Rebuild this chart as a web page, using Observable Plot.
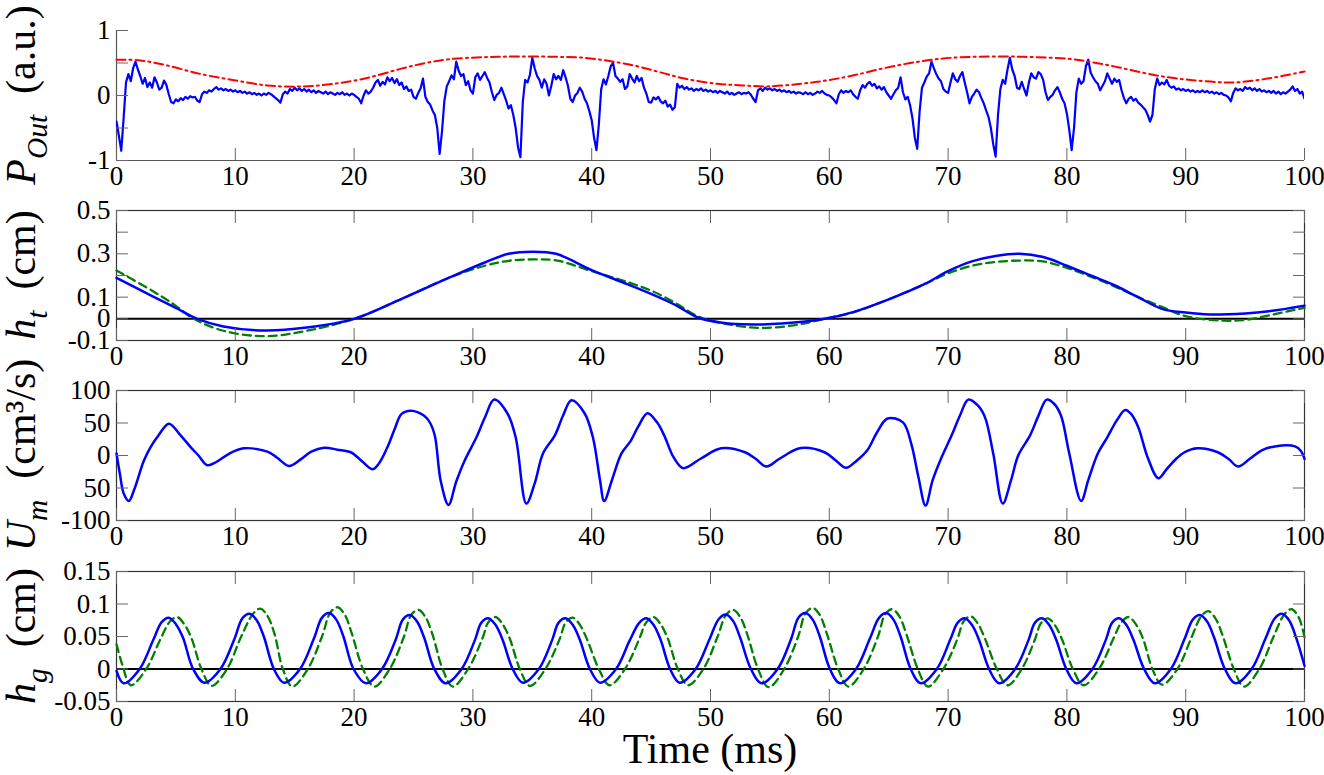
<!DOCTYPE html>
<html><head><meta charset="utf-8">
<script src="https://cdn.jsdelivr.net/npm/d3@7"></script>
<script src="https://cdn.jsdelivr.net/npm/@observablehq/plot@0.6"></script>
<style>
body{margin:0;background:#fff;}
#chart{position:relative;width:1324px;height:775px;overflow:hidden;background:#fff;}
#chart svg{position:absolute;left:0;font-family:"Liberation Serif",serif;}
#chart svg text{font-family:"Liberation Serif",serif;}
</style></head><body><div id="chart"></div>
<script>
// ---------- DATA ----------
const xTicks = [0,10,20,30,40,50,60,70,80,90,100];

// Panel 1: P_Out (a.u.) sampled every 0.2 ms, one row per 5 ms
const pOutStep = 0.2;
const pOutRows = [
 [-0.40,-0.62,-0.85,-0.35,0.20,0.33,0.22,0.42,0.52,0.40,0.30,0.18,0.27,0.13,0.20,0.12,0.28,0.20,0.09,0.12,0.23,0.16,0.02,-0.10,-0.12],
 [-0.06,-0.09,-0.04,-0.07,-0.02,-0.05,-0.01,-0.03,-0.02,-0.08,-0.10,0.02,0.06,0.04,0.08,0.06,0.10,0.13,0.09,0.11,0.08,0.10,0.07,0.09,0.06],
 [0.08,0.05,0.07,0.04,0.06,0.03,0.05,0.02,0.04,0.01,0.03,0.00,0.03,0.01,0.04,0.02,-0.01,-0.04,-0.07,-0.11,0.02,0.06,0.03,0.10,0.07],
 [0.12,0.08,0.11,0.07,0.10,0.06,0.09,0.05,0.08,0.04,0.07,0.05,0.03,0.06,0.02,0.05,0.03,0.01,0.04,0.02,0.05,0.01,0.03,0.00,0.03],
 [0.01,-0.02,-0.05,-0.12,0.00,0.08,0.03,0.06,0.12,0.20,0.24,0.15,0.21,0.17,0.28,0.22,0.27,0.19,0.25,0.16,0.20,0.10,0.14,0.07,0.09],
 [-0.02,-0.05,0.04,0.11,0.26,-0.02,-0.10,-0.14,-0.23,-0.30,-0.50,-0.90,-0.55,-0.08,0.14,0.22,0.31,0.25,0.52,0.38,0.30,0.33,0.16,0.22,0.08],
 [0.03,0.28,0.34,0.24,0.30,0.36,0.27,0.20,0.05,-0.07,0.01,0.04,0.12,0.02,-0.08,-0.20,-0.15,-0.30,-0.50,-0.80,-0.95,-0.10,0.24,0.20,0.32],
 [0.58,0.42,0.30,0.24,0.12,0.25,0.18,0.00,0.15,0.33,0.25,0.30,0.24,0.39,0.28,0.15,-0.05,-0.10,0.00,0.04,0.12,0.06,-0.05,-0.12,-0.24],
 [-0.38,-0.65,-0.84,-0.45,0.10,0.25,0.17,0.30,0.45,0.50,0.30,0.26,0.21,0.25,0.10,0.14,0.33,0.26,0.20,0.30,0.22,0.27,0.12,0.03,-0.10],
 [-0.11,-0.03,-0.06,-0.02,-0.09,-0.12,-0.08,-0.17,-0.14,-0.22,-0.18,0.18,0.12,0.15,0.10,0.13,0.09,0.11,0.07,0.10,0.08,0.11,0.07,0.09,0.06],
 [0.08,0.05,0.07,0.04,0.07,0.05,0.03,0.06,0.02,0.04,0.01,0.03,0.05,0.02,0.04,0.03,0.05,0.01,-0.05,-0.10,0.08,0.11,0.07,0.12,0.09],
 [0.11,0.08,0.10,0.07,0.09,0.06,0.08,0.05,0.07,0.04,0.06,0.03,0.05,0.04,0.02,0.05,0.02,0.04,0.01,0.03,0.06,0.04,0.07,0.03,0.01],
 [0.00,-0.03,-0.07,-0.12,0.02,0.08,0.04,0.07,0.05,0.08,0.02,-0.02,-0.05,0.08,0.16,0.12,0.18,0.21,0.15,0.18,0.11,0.14,0.09,0.13,0.05],
 [0.00,-0.05,0.02,0.08,0.12,0.28,0.05,-0.06,-0.02,-0.15,-0.35,-0.65,-0.82,-0.25,0.12,0.20,0.29,0.34,0.52,0.42,0.33,0.26,0.22,0.10,0.06],
 [0.04,0.20,0.34,0.25,0.21,0.30,0.36,0.20,0.05,-0.12,-0.02,0.03,0.09,0.05,-0.04,-0.12,-0.23,-0.33,-0.50,-0.75,-0.94,-0.30,0.10,0.24,0.18],
 [0.40,0.58,0.40,0.30,0.12,0.10,0.21,0.10,0.00,0.20,0.34,0.28,0.26,0.36,0.33,0.24,0.05,-0.07,-0.02,0.01,0.08,0.13,0.05,-0.05,-0.12],
 [-0.28,-0.53,-0.84,-0.50,0.05,0.26,0.18,0.22,0.45,0.55,0.35,0.28,0.22,0.18,0.08,0.15,0.22,0.34,0.26,0.18,0.26,0.21,0.24,0.08,-0.04],
 [-0.12,-0.05,-0.02,-0.08,-0.05,-0.11,-0.14,-0.18,-0.22,-0.30,-0.40,-0.30,0.10,0.26,0.16,0.20,0.17,0.24,0.15,0.12,0.14,0.09,0.11,0.08,0.10],
 [0.07,0.09,0.06,0.08,0.05,0.07,0.05,0.08,0.05,0.07,0.04,0.06,0.03,0.05,0.02,0.04,0.01,0.00,-0.03,-0.09,0.04,0.11,0.08,0.10,0.07],
 [0.13,0.10,0.12,0.08,0.11,0.07,0.10,0.06,0.08,0.05,0.07,0.04,0.07,0.03,0.06,0.02,0.05,0.03,0.06,0.09,0.14,0.07,0.10,0.03,0.06],
 [-0.05]
];
// Panel 1: envelope (red dash-dot)
const envT = [0,2,4.3,7.1,9.9,12.7,15.5,18.3,21.1,23.9,26,28.1,31,33.8,37,39.4,41.5,43.6,45.7,47.8,50.6,52.7,54.8,57.6,59.7,61.8,64.6,67.5,70.3,74.5,77.3,80.1,82.2,84.3,86.4,88.5,90.6,92.7,94.1,96.9,100];
const envV = [0.55,0.54,0.46,0.33,0.235,0.154,0.138,0.18,0.27,0.41,0.50,0.56,0.59,0.60,0.595,0.58,0.53,0.46,0.36,0.26,0.18,0.155,0.14,0.18,0.23,0.30,0.42,0.52,0.58,0.60,0.59,0.565,0.51,0.435,0.35,0.28,0.235,0.205,0.20,0.26,0.37];

// Panel 2: h_t (cm)
const htBlueT = [0,3,5,6.8,9,12.5,16,20,24,28,31,33,35,37,40,43,45,47,49,51,53.5,56,59.6,62,65,68,70,72,74,76,78,80,82,84,86,88,90,92,95,97,100];
const htBlueV = [0.189,0.105,0.05,0,-0.035,-0.054,-0.04,0,0.092,0.19,0.26,0.30,0.31,0.30,0.225,0.16,0.115,0.065,0.005,-0.018,-0.026,-0.022,0,0.031,0.09,0.16,0.22,0.265,0.29,0.30,0.285,0.245,0.20,0.155,0.10,0.046,0.029,0.02,0.025,0.035,0.061];
const htGreenT = [0,3,5,6.5,9,12.5,16,20,24,28,31,33,35,37,40,43,45,47,49,51,54,57,59.6,62,65,68,70,72,74,76,78,80,82,84,86,88,90,93,95,97,100];
const htGreenV = [0.223,0.13,0.06,0,-0.055,-0.08,-0.055,0,0.092,0.19,0.245,0.268,0.274,0.27,0.22,0.17,0.13,0.075,0.01,-0.02,-0.042,-0.03,0,0.03,0.09,0.16,0.21,0.245,0.262,0.269,0.265,0.235,0.195,0.15,0.10,0.055,0.012,-0.008,-0.005,0.016,0.051];

// Panel 3: U_m (cm^3/s)
const umT = [0,0.3,0.6,1.04,1.5,2.3,2.87,3.5,4.41,5.3,6.24,6.9,7.64,8.4,9.5,10.73,12.7,13.5,14.52,15.5,16.4,17.47,18.6,19.72,20.5,21.54,22.1,22.81,23.4,24.0,24.8,25.9,26.4,26.8,27.3,27.95,28.6,29.3,30.3,31.0,31.8,32.9,33.6,34.5,35.2,35.9,36.9,37.6,38.3,39.4,40.1,40.7,41.05,41.7,42.5,43.3,43.9,44.7,45.5,46.1,46.9,47.7,49.2,50.9,52.9,53.8,54.7,55.8,57.6,59.6,60.5,61.4,62.3,63.2,64.0,64.9,66.2,66.9,67.5,68.1,68.7,69.4,70.3,71.0,71.7,72.5,73.1,73.8,74.6,75.3,75.9,76.9,77.6,78.3,78.9,79.5,80.2,81.2,81.8,82.6,83.4,84.2,84.9,85.4,86.0,86.8,87.7,88.4,89.2,89.9,91.0,92.7,93.6,94.4,95.4,96.4,97.5,99.2,99.7,100];
const umV = [3,-30,-58,-70,-52,-8,13,30,49,33,13,0,-15,-10,3,11,6,-3,-16,-6,6,12,9,5,-6,-21,-12,13,40,64,69,61,50,30,-40,-76,-40,-8,28,58,86,65,28,-74,-43,3,31,62,85,65,28,-38,-70,-38,3,23,44,65,51,31,-3,-19.5,-4.6,11,5,-5,-17,-5,11.5,5,-7,-19,-8,8,35,57,51,18,-33,-77,-38,-5,31,61.5,86,77,59,3,-74,-38,0,31,61,86,80,61.5,3,-70,-38,3,28,54,70,64,44,-3,-35,-21,-5,5,11,5,-5,-17,-5,8,14,14,7,-5];

// Panel 4: h_g (cm)
const hgBlueT = [0,0.6,1.95,3.1,3.8,4.4,5.0,5.6,6.45,7.4,8.75,9.9,10.6,11.2,11.8,12.4,13.25,14.1,15.45,16.6,17.3,17.9,18.5,19.1,19.95,21.0,22.35,23.5,24.1,24.7,25.3,25.9,26.75,27.7,29.05,30.2,30.7,31.3,31.9,32.5,33.35,34.2,35.55,36.7,37.2,37.8,38.4,39.0,39.85,40.7,42.05,43.2,44.0,44.6,45.2,45.8,46.6,47.4,48.75,49.9,50.7,51.3,51.9,52.5,53.4,54.3,55.65,56.8,57.4,58.0,58.6,59.2,60.05,60.9,62.25,63.4,64.2,64.8,65.4,66.0,66.85,67.7,69.05,70.2,70.8,71.4,72.0,72.6,73.45,74.3,75.65,76.8,77.3,77.9,78.5,79.1,79.95,80.8,82.15,83.3,83.8,84.4,85.0,85.6,86.5,87.4,88.75,89.9,90.6,91.2,91.8,92.4,93.3,94.2,95.55,96.7,97.5,98.1,98.7,99.3,100];
const hgBlueV = [-0.003,-0.022,0,0.045,0.072,0.079,0.069,0.048,0,-0.021,0,0.045,0.078,0.085,0.075,0.05,0,-0.021,0,0.046,0.079,0.086,0.076,0.05,0,-0.022,0,0.045,0.076,0.083,0.073,0.048,0,-0.022,0,0.046,0.071,0.078,0.068,0.045,0,-0.021,0,0.046,0.071,0.078,0.068,0.045,0,-0.021,0,0.044,0.071,0.078,0.068,0.045,0,-0.021,0,0.045,0.077,0.084,0.074,0.048,0,-0.022,0,0.047,0.079,0.086,0.076,0.05,0,-0.022,0,0.046,0.079,0.086,0.076,0.05,0,-0.022,0,0.046,0.071,0.078,0.068,0.045,0,-0.022,0,0.046,0.071,0.078,0.068,0.045,0,-0.022,0,0.046,0.071,0.078,0.068,0.045,0,-0.022,0,0.046,0.076,0.083,0.073,0.048,0,-0.022,0,0.046,0.078,0.085,0.075,0.048,0.005];
const hgGreenT = [0,0.5,1.2,2.5,3.7,4.5,5.1,5.7,6.3,7.15,8.0,9.3,10.5,11.5,12.1,12.7,13.3,14.0,14.8,16.1,17.3,18.0,18.6,19.2,19.8,20.75,21.7,23.0,24.2,24.8,25.4,26.0,26.6,27.45,28.3,29.6,30.8,31.3,31.9,32.5,33.1,33.95,34.8,36.1,37.3,37.8,38.4,39.0,39.6,40.6,41.5,42.8,44.0,44.6,45.2,45.8,46.4,47.25,48.1,49.4,50.6,51.3,51.9,52.5,53.1,54.0,54.9,56.2,57.4,58.0,58.6,59.2,59.8,60.75,61.6,62.9,64.1,64.7,65.3,65.9,66.5,67.45,68.3,69.6,70.8,71.3,71.9,72.5,73.1,74.1,75.0,76.2,77.3,77.8,78.4,79.0,79.6,80.5,81.4,82.7,83.9,84.6,85.2,85.8,86.4,87.2,88.0,89.3,90.5,91.3,91.9,92.5,93.1,94.05,94.9,96.2,97.4,98.3,98.9,99.5,100];
const hgGreenV = [0.038,0.006,-0.025,0,0.046,0.073,0.080,0.069,0.048,0,-0.026,0,0.05,0.085,0.093,0.082,0.054,0,-0.027,0,0.05,0.087,0.095,0.084,0.055,0,-0.027,0,0.05,0.083,0.091,0.080,0.053,0,-0.027,0,0.047,0.072,0.080,0.069,0.047,0,-0.026,0,0.046,0.071,0.079,0.068,0.046,0,-0.025,0,0.046,0.072,0.080,0.069,0.047,0,-0.025,0,0.05,0.083,0.091,0.080,0.053,0,-0.028,0,0.051,0.086,0.094,0.083,0.054,0,-0.027,0,0.05,0.084,0.092,0.081,0.053,0,-0.027,0,0.047,0.073,0.081,0.070,0.047,0,-0.025,0,0.045,0.070,0.078,0.067,0.045,0,-0.025,0,0.046,0.072,0.080,0.069,0.047,0,-0.024,0,0.049,0.081,0.089,0.078,0.052,0,-0.027,0,0.05,0.084,0.092,0.080,0.049];

// Axis ticks / labels
const p1Ticks = [-1,-0.5,0,0.5,1], p1LabelVals = [-1,0,1], p1Labels = ["-1","0","1"];
const p2Ticks = [-0.1,0,0.1,0.2,0.3,0.4,0.5], p2LabelVals = [-0.1,0,0.1,0.3,0.5], p2Labels = ["-0.1","0","0.1","0.3","0.5"];
const p3Ticks = [-100,-50,0,50,100], p3Labels = ["-100","50","0","50","100"];
const p4Ticks = [-0.05,0,0.05,0.1,0.15], p4Labels = ["-0.05","0","0.05","0.1","0.15"];

// ---------- LAYOUT ----------
const W = 1324, ML = 116, MR = 20, MT = 30, AREA = 130, MB = 40;
const FONT = "Liberation Serif, serif";
const TICK = 12, TICK_COLOR = "#666", FRAME = "#333";
const BLUE = "#0000ff", GREEN = "#008000", RED = "#ff0000";
const LABEL_SIZE = 42, LABEL_X = 35;

function yLabelMark(main, sub, rest) {
  return () => {
    const g = d3.create("svg:g");
    const t = g.append("text")
      .attr("transform", `translate(${LABEL_X},${MT + AREA / 2}) rotate(-90)`)
      .attr("text-anchor", "middle")
      .attr("font-family", FONT).attr("font-size", LABEL_SIZE)
      .attr("fill", "black").style("white-space", "pre");
    t.append("tspan").attr("font-style", "italic").text(main);
    t.append("tspan").attr("font-style", "italic").attr("font-size", LABEL_SIZE * 0.7)
      .attr("dy", LABEL_SIZE * 0.28).text(sub);
    t.append("tspan").attr("dy", -LABEL_SIZE * 0.28).text("\u2002" + rest);
    return g.node();
  };
}

function axes(ticks, labelVals, labels, boxed) {
  const txt = {fontFamily: FONT, fontSize: 27, fill: "black"};
  const m = [
    Plot.axisX(xTicks, {anchor: "bottom", tickSize: -TICK, tickFormat: () => "", stroke: TICK_COLOR, label: null}),
    Plot.axisX(xTicks, {anchor: "bottom", tickSize: 0, tickPadding: 5, tickFormat: d => String(d), label: null, ...txt}),
    Plot.axisY(ticks, {anchor: "left", tickSize: -TICK, tickFormat: () => "", stroke: TICK_COLOR, label: null}),
    Plot.axisY(labelVals, {anchor: "left", tickSize: 0, tickPadding: 6, tickFormat: d => labels[labelVals.indexOf(d)], label: null, ...txt})
  ];
  if (boxed) {
    m.push(Plot.axisX(xTicks, {anchor: "top", tickSize: -TICK, tickFormat: () => "", stroke: TICK_COLOR, label: null}));
    m.push(Plot.axisY(ticks, {anchor: "right", tickSize: -TICK, tickFormat: () => "", stroke: TICK_COLOR, label: null}));
  }
  return m;
}

function panel(top, yDomain, marks) {
  const svg = Plot.plot({
    width: W, height: MT + AREA + MB,
    marginLeft: ML, marginRight: MR, marginTop: MT, marginBottom: MB,
    style: {background: "transparent", overflow: "visible", fontFamily: FONT, fontSize: "27px", color: "black"},
    x: {domain: [0, 100]},
    y: {domain: yDomain},
    marks
  });
  svg.style.top = top + "px";
  document.getElementById("chart").appendChild(svg);
}

// Panel 1
const pOutT = [], pOutV = [];
pOutRows.forEach((row, r) => row.forEach((v, j) => { pOutT.push(r * 5 + j * pOutStep); pOutV.push(v); }));
panel(0, [-1, 1], [
  Plot.ruleY([-1], {stroke: "#555", strokeWidth: 1.2}),
  Plot.ruleX([0], {stroke: "#555", strokeWidth: 1.2}),
  Plot.line(pOutV, {x: pOutT, y: d => d, stroke: BLUE, strokeWidth: 2.2, clip: true}),
  Plot.line(envV, {x: envT, y: d => d, stroke: RED, strokeWidth: 2, strokeDasharray: "9,4,2,4", curve: "catmull-rom"}),
  ...axes(p1Ticks, p1LabelVals, p1Labels, false),
  yLabelMark("P", "Out", "(a.u.)")
]);

// Panel 2
panel(180, [-0.1, 0.5], [
  Plot.frame({stroke: FRAME, strokeWidth: 1.2}),
  Plot.ruleY([0], {stroke: "black", strokeWidth: 2}),
  Plot.line(htGreenV, {x: htGreenT, y: d => d, stroke: GREEN, strokeWidth: 2.3, strokeDasharray: "8,5", curve: "catmull-rom"}),
  Plot.line(htBlueV, {x: htBlueT, y: d => d, stroke: BLUE, strokeWidth: 2.5, curve: "catmull-rom"}),
  ...axes(p2Ticks, p2LabelVals, p2Labels, true),
  yLabelMark("h", "t", "(cm)")
]);

// Panel 3
panel(360, [-100, 100], [
  Plot.frame({stroke: FRAME, strokeWidth: 1.2}),
  Plot.line(umV, {x: umT, y: d => d, stroke: BLUE, strokeWidth: 2.5, curve: "catmull-rom"}),
  ...axes(p3Ticks, p3Ticks, p3Labels, true),
  yLabelMark("U", "m", "(cm\u00b3/s)")
]);

// Panel 4
panel(541, [-0.05, 0.15], [
  Plot.frame({stroke: FRAME, strokeWidth: 1.2}),
  Plot.ruleY([0], {stroke: "black", strokeWidth: 2}),
  Plot.line(hgGreenV, {x: hgGreenT, y: d => d, stroke: GREEN, strokeWidth: 2.3, strokeDasharray: "8,5", curve: "catmull-rom"}),
  Plot.line(hgBlueV, {x: hgBlueT, y: d => d, stroke: BLUE, strokeWidth: 2.5, curve: "catmull-rom"}),
  ...axes(p4Ticks, p4Ticks, p4Labels, true),
  yLabelMark("h", "g", "(cm)"),
  () => d3.create("svg:text")
        .attr("x", ML + (W - ML - MR) / 2).attr("y", 222)
        .attr("text-anchor", "middle").attr("font-family", FONT).attr("font-size", 42)
        .attr("fill", "black").text("Time (ms)").node()
]);
</script>
</body></html>
